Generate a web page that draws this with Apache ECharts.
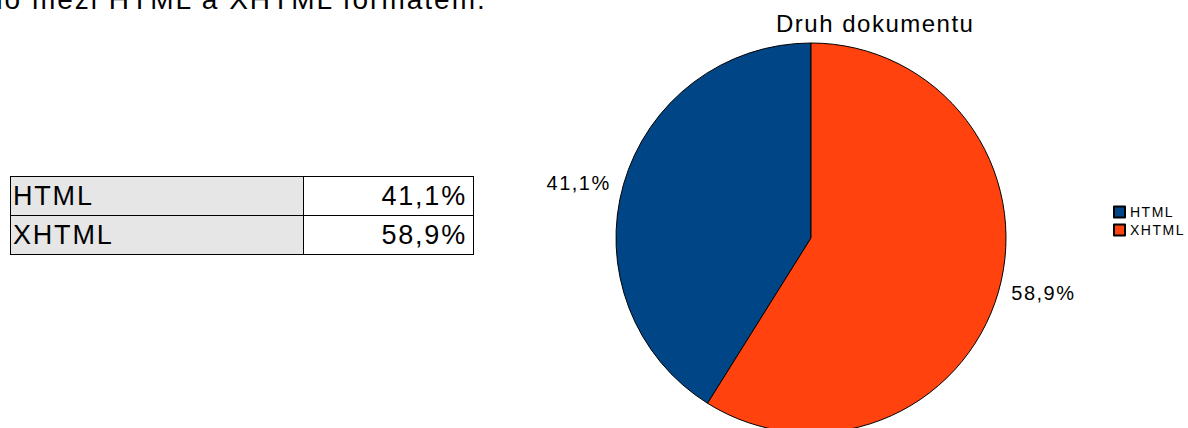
<!DOCTYPE html>
<html>
<head>
<meta charset="utf-8">
<script src="https://cdn.jsdelivr.net/npm/echarts@6/dist/echarts.min.js"></script>
<style>
html,body{margin:0;padding:0;width:1188px;height:428px;overflow:hidden;background:#fff;font-family:"Liberation Sans",Arial,sans-serif;color:#000;}
#chart{position:absolute;left:0;top:0;width:1188px;height:428px;letter-spacing:1.5px;}
#caption{position:absolute;left:-13px;top:-14px;font-size:28px;line-height:28px;letter-spacing:2px;white-space:nowrap;}
.cell{position:absolute;box-sizing:border-box;border:1px solid #000;font-size:27px;line-height:38px;letter-spacing:1.8px;white-space:nowrap;overflow:hidden;}
.lab{background:#e6e6e6;padding-left:2px;text-align:left;}
.val{background:#fff;padding-right:6px;text-align:right;}
</style>
</head>
<body>
<div id="chart"></div>
<div id="caption"></div>
<div id="table"></div>
<script>
// ---- data ----
const categories = ['HTML', 'XHTML'];
const shares = [41.1, 58.9];
const colors = ['#004586', '#ff420e'];
const titleText = 'Druh dokumentu';
const captionText = 'ho mezi HTML a XHTML formátem.';

function fmt(v) { return v.toFixed(1).replace('.', ',') + '%'; }

// caption + table (HTML)
document.getElementById('caption').textContent = captionText;
const tbl = document.getElementById('table');
categories.forEach((c, i) => {
  const top = 176 + 39 * i;
  const a = document.createElement('div');
  a.className = 'cell lab';
  a.style.cssText = `left:10px;top:${top}px;width:294px;height:40px;`;
  a.textContent = c;
  const b = document.createElement('div');
  b.className = 'cell val';
  b.style.cssText = `left:303px;top:${top}px;width:171px;height:40px;`;
  b.textContent = fmt(shares[i]);
  tbl.appendChild(a); tbl.appendChild(b);
});

const chart = echarts.init(document.getElementById('chart'), null, { renderer: 'svg' });
chart.setOption({
  animation: false,
  backgroundColor: 'transparent',
  title: {
    text: titleText,
    left: 776, top: 11, padding: 0,
    textStyle: { fontSize: 24, fontWeight: 'normal', color: '#000', fontFamily: 'Liberation Sans' }
  },
  legend: {
    orient: 'vertical',
    left: 1113, top: 205, padding: 0,
    itemWidth: 11, itemHeight: 11, itemGap: 4,
    icon: 'rect',
    data: categories,
    textStyle: { fontSize: 14, color: '#000', fontFamily: 'Liberation Sans' },
    selectedMode: false
  },
  series: [{
    type: 'pie',
    center: [811, 238],
    radius: 195,
    startAngle: 90,
    clockwise: false,
    avoidLabelOverlap: false,
    data: categories.map((c, i) => ({ name: c, value: shares[i], itemStyle: { color: colors[i] } })),
    itemStyle: { borderColor: '#000', borderWidth: 1 },
    label: {
      show: true, position: 'outside', alignTo: 'none',
      formatter: p => fmt(p.value),
      fontSize: 20, color: '#000', fontFamily: 'Liberation Sans',
      distanceToLabelLine: 9
    },
    labelLine: { show: false, length: 4, length2: 0 },
    emphasis: { disabled: true }
  }]
});
</script>
</body>
</html>
